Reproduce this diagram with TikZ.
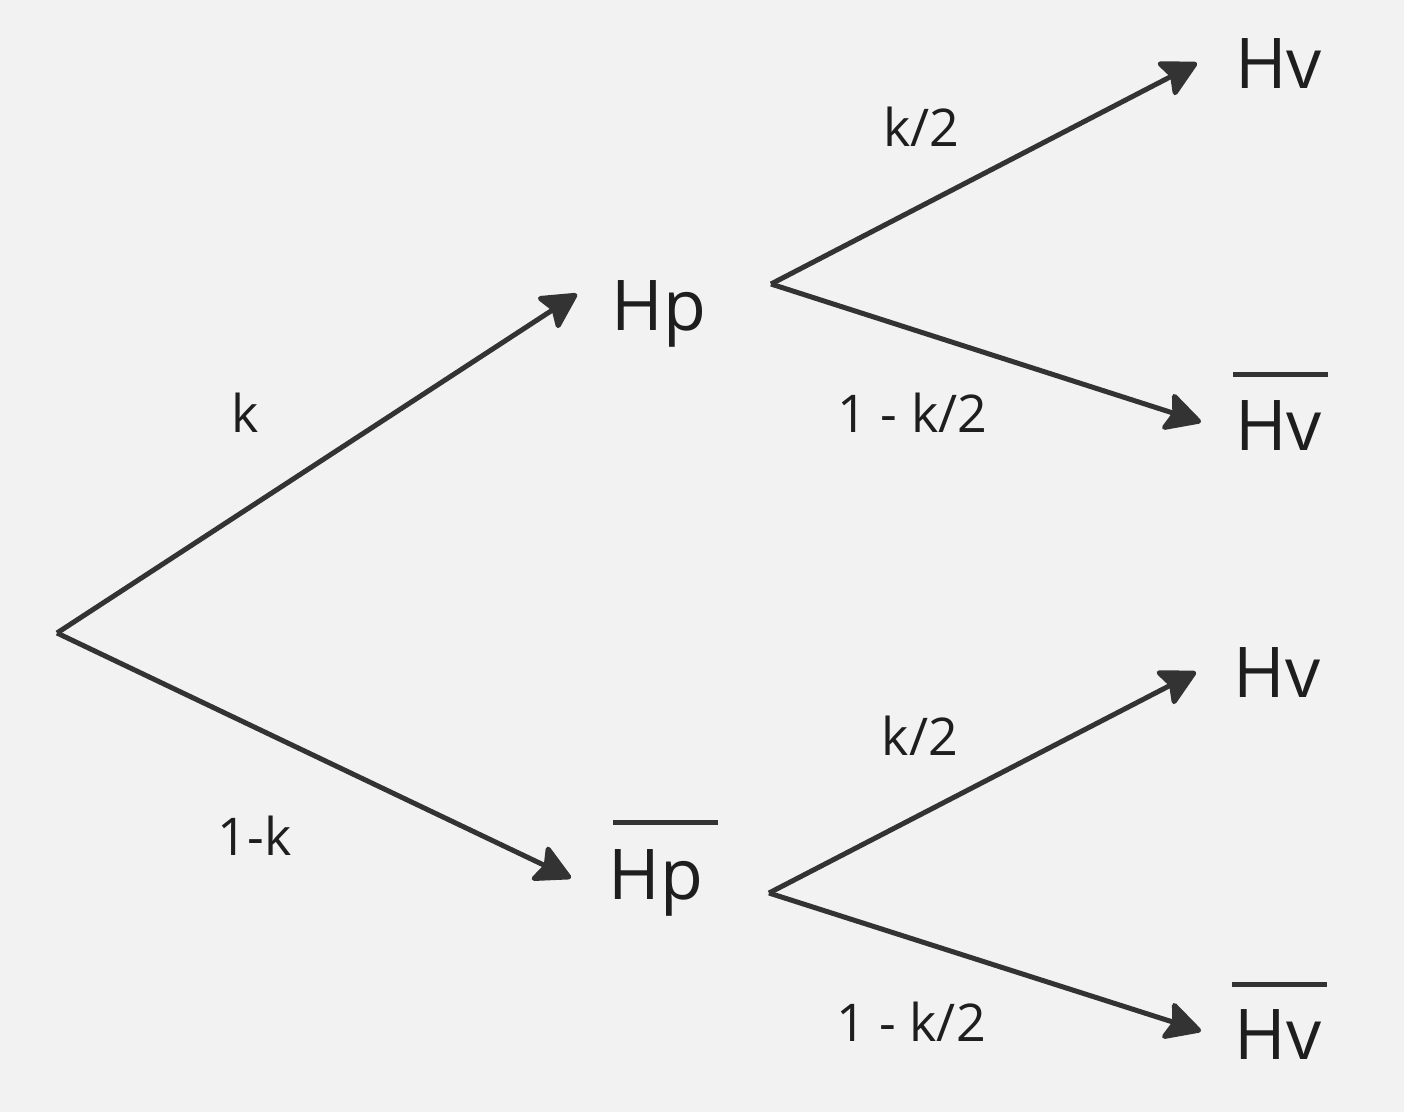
\documentclass[tikz,border=0pt]{standalone}
\usepackage{fontspec}
\setmainfont{Open Sans}
\usetikzlibrary{arrows.meta}
\definecolor{bgc}{HTML}{F2F2F2}
\definecolor{linec}{HTML}{333333}
\definecolor{textc}{HTML}{1E1E1E}
\begin{document}
\begin{tikzpicture}[x=1pt,y=-1pt,
  big/.style={font=\fontsize{70}{80}\selectfont, text=textc, inner sep=0pt, anchor=base},
  lbl/.style={font=\fontsize{52}{60}\selectfont, text=textc, inner sep=0pt, anchor=base},
  edge/.style={draw=linec, line width=5pt, -{Stealth[length=40pt, width=42pt, inset=7pt, round]}},
  bar/.style={draw=linec, line width=5pt}]
\fill[bgc] (0,0) rectangle (1404,1112);
\useasboundingbox (0,0) rectangle (1404,1112);
% branch points and arrow tips
\coordinate (root) at (57,633);
\coordinate (hpout) at (771,284);
\coordinate (hpbout) at (769,893);
\coordinate (hpin) at (577,294);
\coordinate (hpbin) at (571,878);
\coordinate (hv1in) at (1197,63);
\coordinate (hvb1in) at (1201,422);
\coordinate (hv2in) at (1196,672);
\coordinate (hvb2in) at (1201,1031);
% outcome texts
\node[big] (hp) at (659,330) {Hp};
\node[big] (hpb) at (656,899) {Hp};
\node[big] (hv1) at (1278.5,88) {Hv};
\node[big] (hvb1) at (1278.5,450) {Hv};
\node[big] (hv2) at (1277,697) {Hv};
\node[big] (hvb2) at (1278,1059) {Hv};
% overlines
\draw[bar] (613,822) -- (718,822);
\draw[bar] (1233,374) -- (1328,374);
\draw[bar] (1232,984) -- (1327,984);
% probabilities
\node[lbl] (lk) at (245,432) {k};
\node[lbl] (l1k) at (254.5,855) {1-k};
\node[lbl] (lk2a) at (921.5,146) {k/2};
\node[lbl] (l1k2a) at (912.5,432) {1 - k/2};
\node[lbl] (lk2b) at (920,755) {k/2};
\node[lbl] (l1k2b) at (911,1041) {1 - k/2};
% connectors
\draw[edge] (root) -- (hpin);
\draw[edge] (root) -- (hpbin);
\draw[edge] (hpout) -- (hv1in);
\draw[edge] (hpout) -- (hvb1in);
\draw[edge] (hpbout) -- (hv2in);
\draw[edge] (hpbout) -- (hvb2in);
\end{tikzpicture}
\end{document}
